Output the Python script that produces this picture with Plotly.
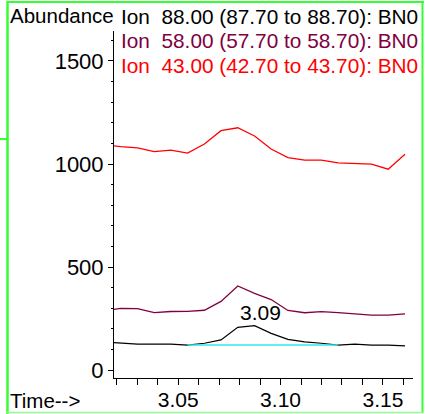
import plotly.graph_objects as go

# Scan times (min) and extracted-ion abundances
times = [3.0137, 3.0219, 3.0301, 3.0383, 3.0464, 3.0546, 3.0628, 3.0709, 3.0791,
         3.0873, 3.0954, 3.1036, 3.1118, 3.1199, 3.1281, 3.1363, 3.1444, 3.1526, 3.1608]
ion_43 = [1094, 1084, 1078, 1060, 1067, 1053, 1097, 1162, 1176,
          1136, 1073, 1031, 1019, 1019, 1005, 1003, 999, 975, 1047]
ion_58 = [288, 299, 298, 279, 284, 285, 290, 333, 408,
          372, 342, 289, 278, 283, 279, 272, 266, 266, 272]
ion_88 = [136, 132, 126, 126, 126, 121, 130, 146, 207,
          215, 178, 149, 137, 130, 121, 126, 121, 121, 117]

# Integrated peak on ion 88: baseline start/end scans and apex time
peak_start, peak_end = 5, 14
peak_rt = 3.09

ion_labels = [
    ("Ion\u00a0\u00a088.00 (87.70 to 88.70): BN0", "#000000"),
    ("Ion\u00a0\u00a058.00 (57.70 to 58.70): BN0", "#800040"),
    ("Ion\u00a0\u00a043.00 (42.70 to 43.70): BN0", "#ff0000"),
]

W, H = 425, 414
ML, MR, MT, MB = 114, 12, 31, 36
PW, PH = W - ML - MR, H - MT - MB


def px(x):
    return (x - ML) / PW


def py(y):
    return (H - MB - y) / PH


FONT = "Liberation Sans, Arial, sans-serif"

fig = go.Figure()
fig.add_trace(go.Scatter(x=times, y=ion_43, mode="lines",
                         line=dict(color="#ff0000", width=1.3), hoverinfo="skip"))
fig.add_trace(go.Scatter(x=times, y=ion_58, mode="lines",
                         line=dict(color="#800040", width=1.3), hoverinfo="skip"))
fig.add_trace(go.Scatter(x=times, y=ion_88, mode="lines",
                         line=dict(color="#000000", width=1.2), hoverinfo="skip"))
# integration baseline
fig.add_trace(go.Scatter(x=[times[peak_start], times[peak_end]],
                         y=[ion_88[peak_start], ion_88[peak_end]], mode="lines",
                         line=dict(color="#30e8e8", width=1.5), hoverinfo="skip"))

annotations = [
    dict(x=peak_rt, y=max(ion_88), xref="x", yref="y", text="3.09", showarrow=False,
         xanchor="center", yanchor="middle", yshift=13,
         font=dict(family=FONT, size=21, color="#000000")),
    dict(x=px(8), y=py(16), xref="paper", yref="paper", text="Abundance",
         showarrow=False, xanchor="left", yanchor="middle",
         font=dict(family=FONT, size=20.5, color="#000000")),
    dict(x=px(8), y=py(400), xref="paper", yref="paper", text="Time-->",
         showarrow=False, xanchor="left", yanchor="middle",
         font=dict(family=FONT, size=20.5, color="#000000")),
]
for i, (txt, col) in enumerate(ion_labels):
    annotations.append(dict(x=px(119), y=py(16.5 + 24.3 * i), xref="paper", yref="paper",
                            text=txt, showarrow=False, xanchor="left", yanchor="middle",
                            font=dict(family=FONT, size=20.8, color=col)))

green = "#33ff33"
shapes = [
    dict(type="line", xref="paper", yref="paper", x0=px(7.5), x1=px(7.5), y0=py(1), y1=py(414),
         line=dict(color=green, width=2.5), layer="above"),
    dict(type="line", xref="paper", yref="paper", x0=px(7), x1=px(424), y0=py(2), y1=py(2),
         line=dict(color=green, width=2), layer="above"),
    dict(type="line", xref="paper", yref="paper", x0=px(422.5), x1=px(422.5), y0=py(1), y1=py(413),
         line=dict(color=green, width=2), layer="above"),
    dict(type="line", xref="paper", yref="paper", x0=px(7), x1=px(423), y0=py(412.5), y1=py(412.5),
         line=dict(color="#8cff8c", width=1.5), layer="above"),
    dict(type="line", xref="paper", yref="paper", x0=px(0), x1=px(7), y0=py(139), y1=py(139),
         line=dict(color=green, width=2), layer="above"),
]

fig.update_layout(
    width=W, height=H,
    margin=dict(l=ML, r=MR, t=MT, b=MB, pad=0, autoexpand=False),
    paper_bgcolor="white", plot_bgcolor="white",
    showlegend=False,
    font=dict(family=FONT, size=20, color="#000000"),
    annotations=annotations,
    shapes=shapes,
    xaxis=dict(range=[3.01863, 3.16471], dtick=0.05, tick0=3.0, tickformat=".2f",
               automargin=False, ticklabelstandoff=-3,
               showgrid=False, zeroline=False, showline=True, linecolor="black", linewidth=1,
               ticks="outside", ticklen=6, tickcolor="black", tickwidth=1,
               tickfont=dict(family=FONT, size=21, color="black"),
               minor=dict(dtick=0.01, tick0=3.0, ticks="outside", ticklen=6,
                          tickcolor="black", showgrid=False)),
    yaxis=dict(range=[-38.8, 1645.6], dtick=500, tick0=0,
               automargin=False,
               showgrid=False, zeroline=False, showline=True, linecolor="black", linewidth=1,
               ticks="outside", ticklen=5, tickcolor="black", tickwidth=1,
               tickfont=dict(family=FONT, size=22, color="black"),
               minor=dict(dtick=100, tick0=0, ticks="outside", ticklen=2,
                          tickcolor="black", showgrid=False)),
)

fig.write_html("out.html")
